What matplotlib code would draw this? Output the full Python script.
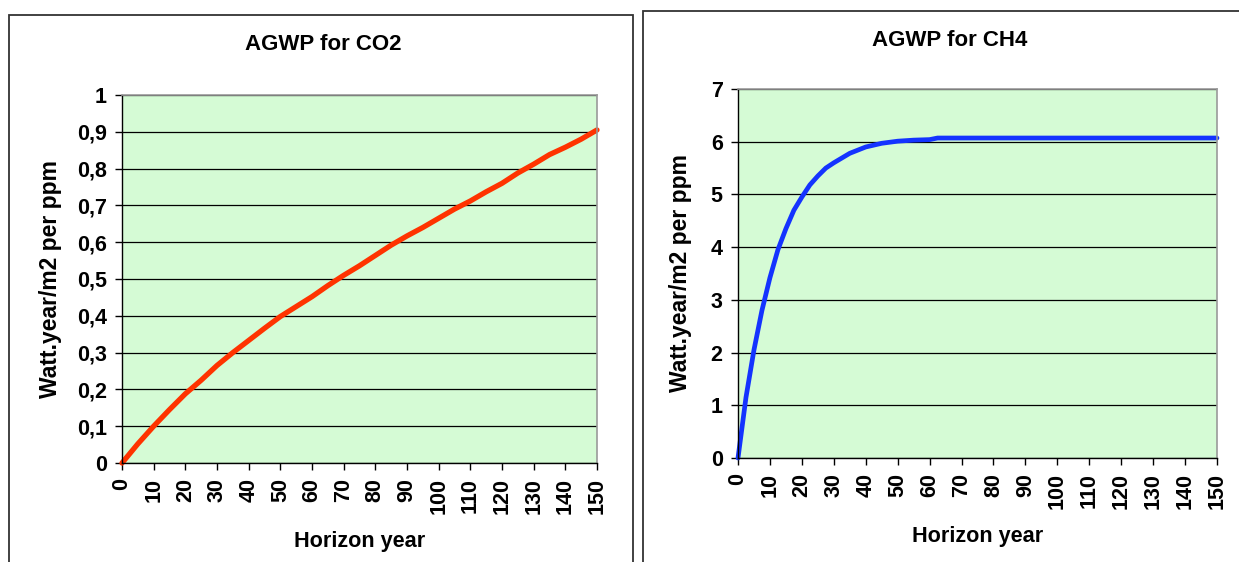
import numpy as np
import matplotlib
matplotlib.use("Agg")
import matplotlib.pyplot as plt
from matplotlib.patches import Rectangle

plt.rcParams['font.family'] = ['Liberation Sans', 'DejaVu Sans']
plt.rcParams['font.weight'] = 'bold'

# AGWP for CO2, read every 5 years
co2_years = [0, 5, 10, 15, 20, 25, 30, 35, 40, 45, 50, 55, 60, 65, 70, 75,
             80, 85, 90, 95, 100, 105, 110, 115, 120, 125, 130, 135, 140, 145, 150]
co2_vals = [0, 0.052, 0.100, 0.145, 0.188, 0.225, 0.265, 0.300, 0.333, 0.366,
            0.398, 0.425, 0.452, 0.482, 0.510, 0.536, 0.564, 0.592, 0.617, 0.640,
            0.665, 0.690, 0.712, 0.737, 0.760, 0.788, 0.812, 0.838, 0.858, 0.880, 0.905]

# AGWP for CH4
ch4_years = [0, 2.5, 5, 7.5, 10, 12.5, 15, 17.5, 20, 22.5, 25, 27.5, 30, 35, 40,
             45, 50, 55, 60, 62.5, 65, 70, 80, 90, 100, 110, 120, 130, 140, 150]
ch4_vals = [0, 1.15, 2.05, 2.80, 3.42, 3.95, 4.35, 4.70, 4.95, 5.18, 5.35, 5.50,
            5.60, 5.78, 5.90, 5.97, 6.01, 6.03, 6.04, 6.07, 6.07, 6.07, 6.07,
            6.07, 6.07, 6.07, 6.07, 6.07, 6.07, 6.07]

x_ticks = list(range(0, 151, 10))
co2_yticks = [0, 0.1, 0.2, 0.3, 0.4, 0.5, 0.6, 0.7, 0.8, 0.9, 1]
co2_ylabels = ['0', '0,1', '0,2', '0,3', '0,4', '0,5', '0,6', '0,7', '0,8', '0,9', '1']
ch4_yticks = [0, 1, 2, 3, 4, 5, 6, 7]

W, H = 1239, 562
fig = plt.figure(figsize=(W / 100, H / 100), dpi=100)

# chart frames (excel style)
fig.patches.append(Rectangle((9 / W, -0.1), 624 / W, 1.1 - 15 / H, transform=fig.transFigure,
                             fill=False, edgecolor='#333333', linewidth=1.3))
fig.patches.append(Rectangle((643 / W, -0.1), 700 / W, 1.1 - 11 / H, transform=fig.transFigure,
                             fill=False, edgecolor='#333333', linewidth=1.3))

bg = '#D5FBD5'


def style_axes(ax, ymax):
    ax.set_facecolor(bg)
    ax.set_xlim(0, 150)
    ax.set_ylim(0, ymax)
    ax.set_xticks(x_ticks)
    ax.set_xticklabels([str(t) for t in x_ticks], rotation=90, fontsize=15.5, fontweight='bold')
    ax.grid(axis='y', color='black', linewidth=0.9)
    ax.set_axisbelow(True)
    for s in ['top', 'right']:
        ax.spines[s].set_color('#999999')
        ax.spines[s].set_linewidth(1.2)
    for s in ['left', 'bottom']:
        ax.spines[s].set_color('black')
        ax.spines[s].set_linewidth(1.0)
    ax.tick_params(axis='both', direction='out', length=5, width=1, pad=6)
    ax.set_xlabel('Horizon year', fontsize=15.6, fontweight='bold', labelpad=12)
    ax.set_ylabel('Watt.year/m2 per ppm', fontsize=16.5, fontweight='bold')


ax1 = fig.add_axes([122 / W, 1 - 463 / H, 475 / W, 368 / H])
style_axes(ax1, 1)
ax1.set_yticks(co2_yticks)
ax1.set_yticklabels(co2_ylabels, fontsize=15.5, fontweight='bold')
ax1.plot(co2_years, co2_vals, color='#FF3300', linewidth=3.8, solid_capstyle='round', clip_on=False)
ax1.yaxis.set_label_coords(-60 / 475, 0.5)

ax2 = fig.add_axes([738 / W, 1 - 458 / H, 479 / W, 369 / H])
style_axes(ax2, 7)
ax2.set_yticks(ch4_yticks)
ax2.set_yticklabels([str(t) for t in ch4_yticks], fontsize=15.5, fontweight='bold')
ax2.plot(ch4_years, ch4_vals, color='#1433FF', linewidth=3.4, solid_capstyle='round', clip_on=False)
ax2.yaxis.set_label_coords(-46 / 479, 0.5)

fig.text(323 / W, 1 - 45 / H, 'AGWP for CO2', ha='center', va='center', fontsize=16, fontweight='bold')
fig.text(950 / W, 1 - 40 / H, 'AGWP for CH4', ha='center', va='center', fontsize=16, fontweight='bold')

fig.savefig('out.png', dpi=100, facecolor='white')
